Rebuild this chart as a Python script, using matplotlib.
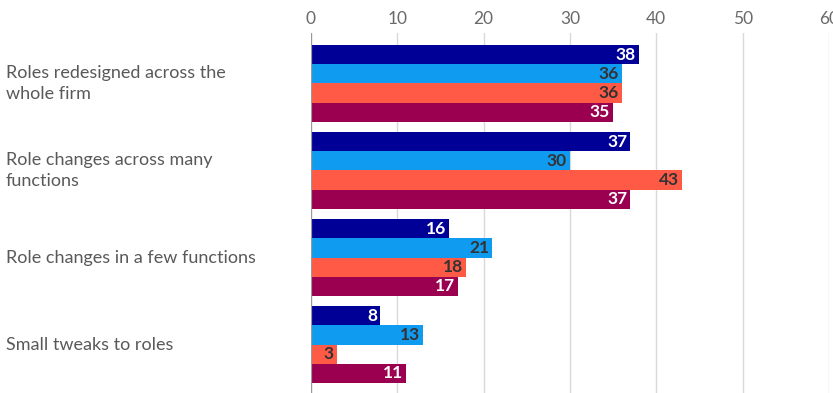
import matplotlib
matplotlib.use("Agg")
import matplotlib.pyplot as plt
import matplotlib.transforms as mtransforms
import numpy as np

# role-change categories, top to bottom
categories = [
    "Roles redesigned across the\nwhole firm",
    "Role changes across many\nfunctions",
    "Role changes in a few functions",
    "Small tweaks to roles",
]

# four series per category (% of respondents)
navy_vals = [38, 37, 16, 8]
blue_vals = [36, 30, 21, 13]
coral_vals = [36, 43, 18, 3]
maroon_vals = [35, 37, 17, 11]

x_ticks = [0, 10, 20, 30, 40, 50, 60]

series = [navy_vals, blue_vals, coral_vals, maroon_vals]
colors = ["#000096", "#0f9bf0", "#ff5a46", "#9b0050"]
label_colors = ["white", "#333333", "#333333", "white"]

plt.rcParams["font.family"] = ["Lato", "DejaVu Sans"]

fig = plt.figure(figsize=(8.33, 3.93), dpi=100)
ax = fig.add_axes([311 / 833, 0, (829 - 311) / 833, 1 - 33 / 393])

h = 0.22
y = np.arange(len(categories))
for i, (vals, col, lcol) in enumerate(zip(series, colors, label_colors)):
    ypos = y + (i - 1.5) * h
    ax.barh(ypos, vals, height=h, color=col, zorder=3)
    for v, yy in zip(vals, ypos):
        ax.annotate(str(v), xy=(v, yy), xytext=(-2.2, 0),
                    textcoords="offset points", ha="right", va="center",
                    fontsize=12.5, fontweight="bold", color=lcol, zorder=4)

ax.set_xlim(0, 60)
ax.set_ylim(3.557, -0.58)
ax.set_xticks(x_ticks)
ax.xaxis.tick_top()
ax.tick_params(axis="x", length=0, pad=4, labelsize=12.5, labelcolor="#6a6a6a")
ax.tick_params(axis="y", left=False, labelleft=False)
ax.grid(axis="x", color="#d9d9d9", linewidth=1, zorder=0)
ax.axvline(0, color="#999999", linewidth=1.6, zorder=5)
for s in ax.spines.values():
    s.set_visible(False)

# category labels, left-aligned at the figure edge
trans = mtransforms.blended_transform_factory(fig.transFigure, ax.transData)
for yy, lab in zip(y, categories):
    ax.text(6 / 833, yy, lab, transform=trans, ha="left", va="center",
            fontsize=13, color="#595959", linespacing=1.4)

fig.savefig("out.png", dpi=100)
